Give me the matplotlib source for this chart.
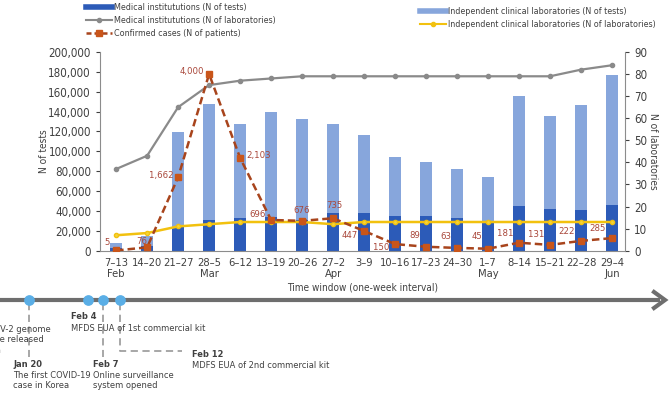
import matplotlib
matplotlib.use("Agg")
import matplotlib.pyplot as plt
from matplotlib.lines import Line2D

plt.rcParams['font.family'] = ['DejaVu Sans']
plt.rcParams['font.stretch'] = 'condensed'

# weekly windows
weeks = ["7–13", "14–20", "21–27", "28–5", "6–12", "13–19", "20–26", "27–2",
         "3–9", "10–16", "17–23", "24–30", "1–7", "8–14", "15–21", "22–28", "29–4"]
months = ["Feb", "", "", "Mar", "", "", "", "Apr",
          "", "", "", "", "May", "", "", "", "Jun"]

# tests
total_tests = [8000, 15000, 119000, 148000, 128000, 140000, 133000, 127500,
               116000, 94000, 89000, 82000, 74000, 155500, 135500, 147000, 177000]
medical_tests = [2500, 4500, 24000, 31000, 32500, 33500, 31000, 37500,
                 37500, 34500, 35000, 32500, 29000, 44500, 41500, 41000, 46000]
independent_tests = [t - m for t, m in zip(total_tests, medical_tests)]

# laboratories
medical_labs = [37, 43, 65, 75, 77, 78, 79, 79, 79, 79, 79, 79, 79, 79, 79, 82, 84]
independent_labs = [7, 8, 11, 12, 13, 13, 13, 12, 13, 13, 13, 13, 13, 13, 13, 13, 13]

# confirmed cases
cases = [5, 76, 1662, 4000, 2103, 696, 676, 735, 447, 150, 89, 63, 45, 181, 131, 222, 285]

DARK = "#2c5bb8"
LIGHT = "#87a6dc"
GRAY = "#8a8a8a"
YELLOW = "#f2c10f"
RED = "#a8441c"
ORANGE = "#c9551a"
TXT = "#404040"

fig = plt.figure(figsize=(6.69, 3.93), dpi=100)
ax = fig.add_axes([100 / 669, 1 - 250.7 / 393, 525 / 669, 198.7 / 393])

x = list(range(len(weeks)))
ax.bar(x, medical_tests, width=0.39, color=DARK, zorder=2)
ax.bar(x, independent_tests, width=0.39, bottom=medical_tests, color=LIGHT, zorder=2)
ax.set_xlim(-0.52, 16.42)
ax.set_ylim(0, 200000)
ax.set_yticks(range(0, 200001, 20000))
ax.set_yticklabels([f"{v:,}" for v in range(0, 200001, 20000)])
ax.set_xticks(x)
ax.set_xticklabels([w + ("\n" + m if m else "\n ") for w, m in zip(weeks, months)],
                   linespacing=1.15)
ax.tick_params(axis='x', length=0, labelsize=8, colors=TXT, pad=5)
ax.tick_params(axis='y', length=3, labelsize=8.3, colors=TXT, width=0.8)
for s in ['top', 'right']:
    ax.spines[s].set_visible(False)
for s in ['left', 'bottom']:
    ax.spines[s].set_color("#8c8c8c")
ax.set_ylabel("N of tests", fontsize=7.3, color=TXT)
ax.yaxis.set_label_coords(-0.097, 0.5)

ax2 = ax.twinx()
ax2.plot(x, medical_labs, color=GRAY, lw=1.6, marker='o', ms=3, zorder=3)
ax2.plot(x, independent_labs, color=YELLOW, lw=1.8, marker='o', ms=3,
         mfc="#f4d43a", zorder=3)
ax2.set_ylim(0, 90)
ax2.set_yticks(range(0, 91, 10))
ax2.tick_params(axis='y', length=3, labelsize=8.3, colors=TXT, width=0.8)
for s in ['top', 'left', 'bottom']:
    ax2.spines[s].set_visible(False)
ax2.spines['right'].set_color("#8c8c8c")
ax2.set_ylabel("N of laboratories", fontsize=7.3, color=TXT, rotation=270,
               va='center')
ax2.yaxis.set_label_coords(1.053, 0.5)

ax3 = ax.twinx()
ax3.set_ylim(0, 4500)
ax3.axis('off')
ax3.plot(x, cases, color=RED, lw=1.8, ls=(0, (3, 1.6)), marker='s', ms=4,
         mfc=ORANGE, mec=ORANGE, zorder=4)
offsets = [(-9, 8, 'center'), (-5, 6, 'center'), (-4, 2, 'right'), (-5, 3, 'right'),
           (6, 2, 'left'), (-5, 5, 'right'), (0, 10, 'center'), (1, 13, 'center'),
           (-6, -5, 'right'), (-6, -3, 'right'), (-6, 11, 'right'), (-6, 11, 'right'),
           (-6, 12, 'right'), (-6, 9, 'right'), (-6, 10, 'right'), (-6, 9, 'right'),
           (-6, 10, 'right')]
for xi, c, (dx, dy, ha) in zip(x, cases, offsets):
    ax3.annotate(f"{c:,}", (xi, c), xytext=(dx, dy), textcoords='offset pixels',
                 ha=ha, va='center', fontsize=6.8, color="#a9473a")

fig.text(363 / 669, 1 - 287 / 393, "Time window (one-week interval)", ha='center',
         va='center', fontsize=7.2, color=TXT)

# legends
h_left = [Line2D([], [], color=DARK, lw=4),
          Line2D([], [], color=GRAY, lw=1.5, marker='o', ms=3),
          Line2D([], [], color=RED, lw=1.8, ls=(0, (2, 1.2)), marker='s', ms=4,
                 mfc=ORANGE, mec=ORANGE)]
l_left = ["Medical institututions (N of tests)",
          "Medical institututions (N of laboratories)",
          "Confirmed cases (N of patients)"]
h_right = [Line2D([], [], color=LIGHT, lw=4),
           Line2D([], [], color=YELLOW, lw=1.5, marker='o', ms=3)]
l_right = ["Independent clinical laboratories (N of tests)",
           "Independent clinical laboratories (N of laboratories)"]
kw = dict(frameon=False, fontsize=6.4, handlelength=2.9, handletextpad=0.3,
          labelspacing=0.45, borderaxespad=0, borderpad=0, labelcolor=TXT)
fig.legend(h_left, l_left, loc='upper left', bbox_to_anchor=(86 / 669, 1 - 3 / 393), **kw)
fig.legend(h_right, l_right, loc='upper left', bbox_to_anchor=(420 / 669, 1 - 7 / 393), **kw)

# timeline of events
tl = fig.add_axes([0, 0, 1, 1], zorder=-1)
tl.set_xlim(0, 669)
tl.set_ylim(393, 0)
tl.axis('off')
tl.plot([0, 660], [300, 300], color="#6e6e6e", lw=3, solid_capstyle='butt')
tl.plot([654, 665, 654], [292, 300, 308], color="#6e6e6e", lw=3,
        solid_joinstyle='miter')
DOT = "#5aaee6"
dash = dict(color="#a0a0a0", lw=1.3, ls=(0, (4, 2.5)))
tl.plot([29, 29], [303, 357], **dash)
tl.plot([103, 103], [303, 357], **dash)
tl.plot([120, 120, 182], [303, 351, 351], **dash)
tl.scatter([29, 88, 103, 120], [300, 300, 300, 300], s=45, color=DOT, zorder=3)

ev_kw = dict(fontsize=6.7, color=TXT, va='top', linespacing=1.2)
tl.text(-36, 325, "SARS-CoV-2 genome\nsequence released\nby China", **ev_kw)
tl.text(71, 312, "Feb 4", fontweight='bold', **ev_kw)
tl.text(71, 324, "MFDS EUA of 1st commercial kit", **ev_kw)
tl.text(13, 360, "Jan 20", fontweight='bold', **ev_kw)
tl.text(13, 371, "The first COVID-19\ncase in Korea", **ev_kw)
tl.text(93, 360, "Feb 7", fontweight='bold', **ev_kw)
tl.text(93, 371, "Online surveillance\nsystem opened", **ev_kw)
tl.text(192, 350, "Feb 12", fontweight='bold', **ev_kw)
tl.text(192, 361, "MDFS EUA of 2nd commercial kit", **ev_kw)

fig.savefig("out.png", dpi=100)
